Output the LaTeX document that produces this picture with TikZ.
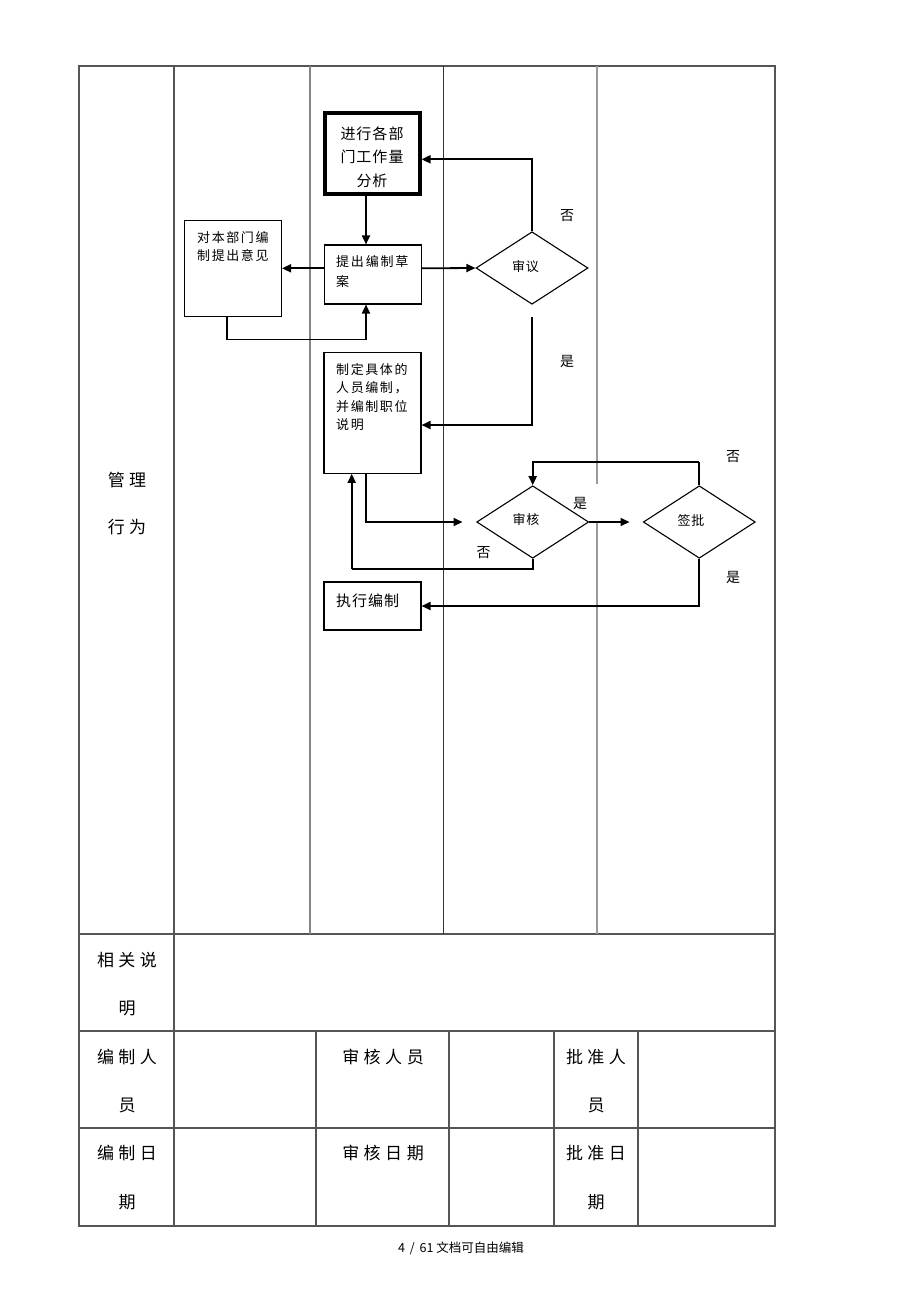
\documentclass[tikz,border=0pt]{standalone}
\usepackage{fontspec}
\setmainfont{Noto Sans CJK SC}
\usetikzlibrary{arrows.meta,shapes.geometric}
\definecolor{tgray}{HTML}{555555}
\definecolor{mgray}{HTML}{858585}
\definecolor{dgray}{HTML}{333333}
\definecolor{lgray}{HTML}{9A9A9A}
\newcommand\fsz[1]{\fontsize{#1}{#1}\selectfont}
\newdimen\lspdim
\def\lsp#1#2{\lspdim=#1\relax\lspa#2\relax\relax}
\def\lspa#1#2{#1\ifx#2\relax\else\hspace{\lspdim}\expandafter\lspa\expandafter#2\fi}
\begin{document}
\begin{tikzpicture}[x=1pt,y=-1pt,
  tline/.style={line width=1.1pt, draw=tgray},
  conn/.style={line width=1.8pt, draw=black},
  arr/.style={conn, -{Triangle[length=9pt,width=8pt]}},
  box/.style={draw=black, line width=1.1pt, inner sep=0pt, rectangle},
  dia/.style={draw=black, diamond, line width=1.1pt, inner sep=0pt, minimum width=112pt, minimum height=72.5pt},
  ttxt/.style={inner sep=0pt, font=\fsz{17}},
  btxt/.style={inner sep=0pt, anchor=north west, align=left, font=\fontsize{13}{18.5}\selectfont},
  lbl/.style={inner sep=0pt, font=\fsz{14}},
  dtxt/.style={inner sep=0pt, font=\fsz{13}}
]
\useasboundingbox (0,0) rectangle (920,1302);
\fill[white] (0,0) rectangle (920,1302);

% ---------- table ----------
\draw[tline] (79,66) rectangle (775,1226);
\draw[tline] (79,934) -- (775,934);
\draw[tline] (79,1031) -- (775,1031);
\draw[tline] (79,1128) -- (775,1128);
\draw[tline] (174,66) -- (174,1226);
\draw[tline, draw=mgray] (310,66) -- (310,934);
\draw[line width=0.9pt, draw=dgray] (443,66) -- (443,934);
\draw[tline, draw=lgray] (597,66) -- (597,484) (597,522) -- (597,934);
\foreach \xx in {316,449,554,638} \draw[tline] (\xx,1031) -- (\xx,1226);

\node[ttxt] (g1) at (127,480) {\lsp{4.5pt}{管理}};
\node[ttxt] (g2) at (127,527) {\lsp{4.5pt}{行为}};
\node[ttxt] (r1a) at (127,960) {\lsp{4.5pt}{相关说}};
\node[ttxt] (r1b) at (127,1008) {明};
\node[ttxt] (r2a) at (127,1057) {\lsp{4.5pt}{编制人}};
\node[ttxt] (r2b) at (127,1105) {员};
\node[ttxt] (r2c) at (383,1057) {\lsp{4.5pt}{审核人员}};
\node[ttxt] (r2d) at (596,1057) {\lsp{4.5pt}{批准人}};
\node[ttxt] (r2e) at (596,1105) {员};
\node[ttxt] (r3a) at (127,1153) {\lsp{4.5pt}{编制日}};
\node[ttxt] (r3b) at (127,1202) {期};
\node[ttxt] (r3c) at (383,1153) {\lsp{4.5pt}{审核日期}};
\node[ttxt] (r3d) at (596,1153) {\lsp{4.5pt}{批准日}};
\node[ttxt] (r3e) at (596,1202) {期};

\node[inner sep=0pt, font=\fsz{12.5}] (foot) at (461,1248) {4 \,/\, 61 文档可自由编辑};

% ---------- flowchart boxes ----------
\node[box, line width=4pt, minimum width=95pt, minimum height=81pt] (b1) at (372,153.5) {};
\node[inner sep=0pt, align=center, font=\fontsize{15}{23.5}\selectfont] (b1t) at (372,157) {\lsp{1pt}{进行各部}\\\lsp{1pt}{门工作量}\\\lsp{1pt}{分析}};

\node[box, minimum width=97pt, minimum height=59pt] (b2) at (373,274.5) {};
\node[btxt, font=\fontsize{13}{20}\selectfont] (b2t) at (336,255.2) {\lsp{1.8pt}{提出编制草}\\案};

\node[box, minimum width=97pt, minimum height=96.5pt] (b3) at (233,268.3) {};
\node[btxt] (b3t) at (197,230.8) {\lsp{1.6pt}{对本部门编}\\\lsp{1.6pt}{制提出意见}};

\node[box, minimum width=97pt, minimum height=120.5pt] (b4) at (372.5,413) {};
\node[btxt] (b4t) at (336,363.1) {\lsp{1.6pt}{制定具体的}\\\lsp{1.6pt}{人员编制，}\\\lsp{1.6pt}{并编制职位}\\\lsp{1.6pt}{说明}};

\node[box, minimum width=97pt, minimum height=48pt] (b5) at (372.5,606) {};
\node[inner sep=0pt, anchor=west, font=\fsz{15}] (b5t) at (336,600.5) {\lsp{1pt}{执行编制}};

% ---------- diamonds ----------
\node[dia] (d1) at (532,268) {};
\node[dtxt] (d1t) at (525.5,266.5) {\lsp{1pt}{审议}};
\node[dia] (d2) at (532.7,522) {};
\node[dtxt] (d2t) at (526,520) {\lsp{1pt}{审核}};
\node[dia] (d3) at (699.3,522) {};
\node[dtxt] (d3t) at (691,520) {\lsp{1pt}{签批}};

% ---------- helper coordinates ----------
\coordinate (xl) at (366,0);
\coordinate (yl) at (0,268.3);
\coordinate (y159) at (0,159.3);
\coordinate (y425) at (0,425);
\coordinate (y462) at (0,461.7);
\coordinate (k1) at (227.3,339.5);
\coordinate (d1b) at (532,317);
\coordinate (k2) at (462.5,522);
\coordinate (k3) at (351.7,569.3);
\coordinate (k4) at (629.5,522);

% ---------- connectors ----------
\draw[arr] (b1.south -| xl) -- (b2.north -| xl);
\draw[arr] (b2.west |- yl) -- (b3.east |- yl);
\draw[conn] (b3.south -| k1) -- (k1);
\draw[arr] (k1) -| (b2.south -| xl);
\draw[arr] (b2.east |- yl) -- (d1.west);
\draw[arr] (d1.north) |- (b1.east |- y159);
\draw[arr] (d1b) |- (b4.east |- y425);
\draw[arr] (b4.south -| xl) |- (k2);
\draw[conn] (d2.south) |- (k3);
\draw[arr] (k3) -- (b4.south -| k3);
\draw[arr] (d2.east) -- (k4);
\draw[conn] (d3.north) -- (d3.north |- y462);
\draw[arr] (d3.north |- y462) -| (d2.north);
\draw[arr] (d3.south) |- (b5.east);

% ---------- labels ----------
\node[lbl] (l1) at (567,216) {否};
\node[lbl] (l2) at (567,361) {是};
\node[lbl] (l3) at (733,457) {否};
\node[lbl] (l4) at (580,503.5) {是};
\node[lbl] (l5) at (483.5,552.3) {否};
\node[lbl] (l6) at (733,577.5) {是};
\end{tikzpicture}
\end{document}
